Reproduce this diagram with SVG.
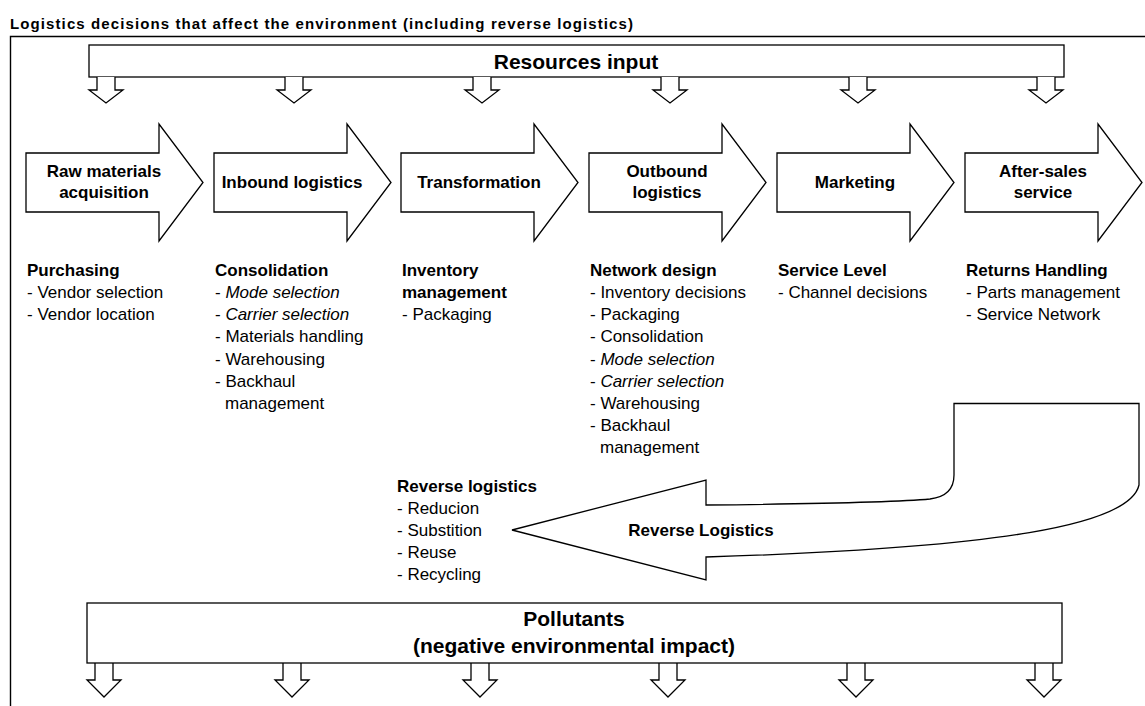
<svg xmlns="http://www.w3.org/2000/svg" width="1145" height="706" viewBox="0 0 1145 706">
<style>
.s{fill:#fff;stroke:#000;stroke-width:1.3;stroke-linejoin:miter}
.ln{fill:none;stroke:#000;stroke-width:1.4}
text{font-family:"Liberation Sans",Arial,sans-serif;fill:#000}
.lab{font-size:17px;font-weight:bold;text-anchor:middle}
.li{font-size:17px}
.hd{font-weight:bold}
.big{font-size:21px;font-weight:bold;text-anchor:middle}
.it{font-style:italic}
</style>
<defs>
<path id="blk" class="s" d="M0,29 H133 V0 L177,58.5 L133,117 V88 H0 Z"/>
<path id="dnT" class="s" d="M-9,0 V13 H-17 L0,26 L17,13 H9 V0"/>
<path id="dnB" class="s" d="M-9,0 V17 H-17 L0,34 L17,17 H9 V0"/>
</defs>
<rect width="1145" height="706" fill="#fff"/>

<g id="title">
<text x="10" y="29" font-size="15" font-weight="bold" textLength="623" lengthAdjust="spacing">Logistics decisions that affect the environment (including reverse logistics)</text>
</g>
<g id="frame">
<path class="ln" d="M10.5,706 V36.5 H1145"/>
</g>

<g id="resources">
<rect class="s" x="89" y="45" width="975" height="32"/>
<text class="big" x="576" y="69">Resources input</text>
</g>

<g id="connectors">
<use href="#dnT" x="106" y="77"/>
<use href="#dnT" x="294" y="77"/>
<use href="#dnT" x="482" y="77"/>
<use href="#dnT" x="670" y="77"/>
<use href="#dnT" x="858" y="77"/>
<use href="#dnT" x="1046" y="77"/>
<use href="#dnB" x="104" y="663"/>
<use href="#dnB" x="292" y="663"/>
<use href="#dnB" x="480" y="663"/>
<use href="#dnB" x="668" y="663"/>
<use href="#dnB" x="856" y="663"/>
<use href="#dnB" x="1044" y="663"/>
</g>

<g id="raw-materials">
<use href="#blk" x="26" y="124"/>
<text class="lab" x="104" y="177">Raw materials</text>
<text class="lab" x="104" y="198">acquisition</text>
<text class="li" x="27" y="276"><tspan class="hd">Purchasing</tspan><tspan x="27" y="298">- Vendor selection</tspan><tspan x="27" y="320">- Vendor location</tspan></text>
</g>

<g id="inbound">
<use href="#blk" x="214" y="124"/>
<text class="lab" x="292" y="188">Inbound logistics</text>
<text class="li" x="215" y="276"><tspan class="hd">Consolidation</tspan><tspan x="215" y="298">- <tspan class="it">Mode selection</tspan></tspan><tspan x="215" y="320">- <tspan class="it">Carrier selection</tspan></tspan><tspan x="215" y="342">- Materials handling</tspan><tspan x="215" y="365">- Warehousing</tspan><tspan x="215" y="387">- Backhaul</tspan><tspan x="225" y="409">management</tspan></text>
</g>

<g id="transformation">
<use href="#blk" x="401" y="124"/>
<text class="lab" x="479" y="188">Transformation</text>
<text class="li" x="402" y="276"><tspan class="hd">Inventory</tspan><tspan class="hd" x="402" y="298">management</tspan><tspan x="402" y="320">- Packaging</tspan></text>
</g>

<g id="outbound">
<use href="#blk" x="589" y="124"/>
<text class="lab" x="667" y="177">Outbound</text>
<text class="lab" x="667" y="198">logistics</text>
<text class="li" x="590" y="276"><tspan class="hd">Network design</tspan><tspan x="590" y="298">- Inventory decisions</tspan><tspan x="590" y="320">- Packaging</tspan><tspan x="590" y="342">- Consolidation</tspan><tspan x="590" y="365">- <tspan class="it">Mode selection</tspan></tspan><tspan x="590" y="387">- <tspan class="it">Carrier selection</tspan></tspan><tspan x="590" y="409">- Warehousing</tspan><tspan x="590" y="431">- Backhaul</tspan><tspan x="600" y="453">management</tspan></text>
</g>

<g id="marketing">
<use href="#blk" x="777" y="124"/>
<text class="lab" x="855" y="188">Marketing</text>
<text class="li" x="778" y="276"><tspan class="hd">Service Level</tspan><tspan x="778" y="298">- Channel decisions</tspan></text>
</g>

<g id="after-sales">
<use href="#blk" x="965" y="124"/>
<text class="lab" x="1043" y="177">After-sales</text>
<text class="lab" x="1043" y="198">service</text>
<text class="li" x="966" y="276"><tspan class="hd">Returns Handling</tspan><tspan x="966" y="298">- Parts management</tspan><tspan x="966" y="320">- Service Network</tspan></text>
</g>

<g id="reverse-logistics">
<path class="s" d="M512,530 L706,480 V505 C800,504 900,502 930,499 Q954,496 954,475 V403.5 H1139 V485 C1130,525 1000,548 706,557 V580 Z"/>
<text class="lab" x="701" y="536">Reverse Logistics</text>
<text class="li" x="397" y="492"><tspan class="hd">Reverse logistics</tspan><tspan x="397" y="514">- Reducion</tspan><tspan x="397" y="536">- Substition</tspan><tspan x="397" y="558">- Reuse</tspan><tspan x="397" y="580">- Recycling</tspan></text>
</g>

<g id="pollutants">
<rect class="s" x="87" y="603" width="975" height="60"/>
<text class="big" x="574" y="626">Pollutants</text>
<text class="big" x="574" y="653">(negative environmental impact)</text>
</g>
</svg>
